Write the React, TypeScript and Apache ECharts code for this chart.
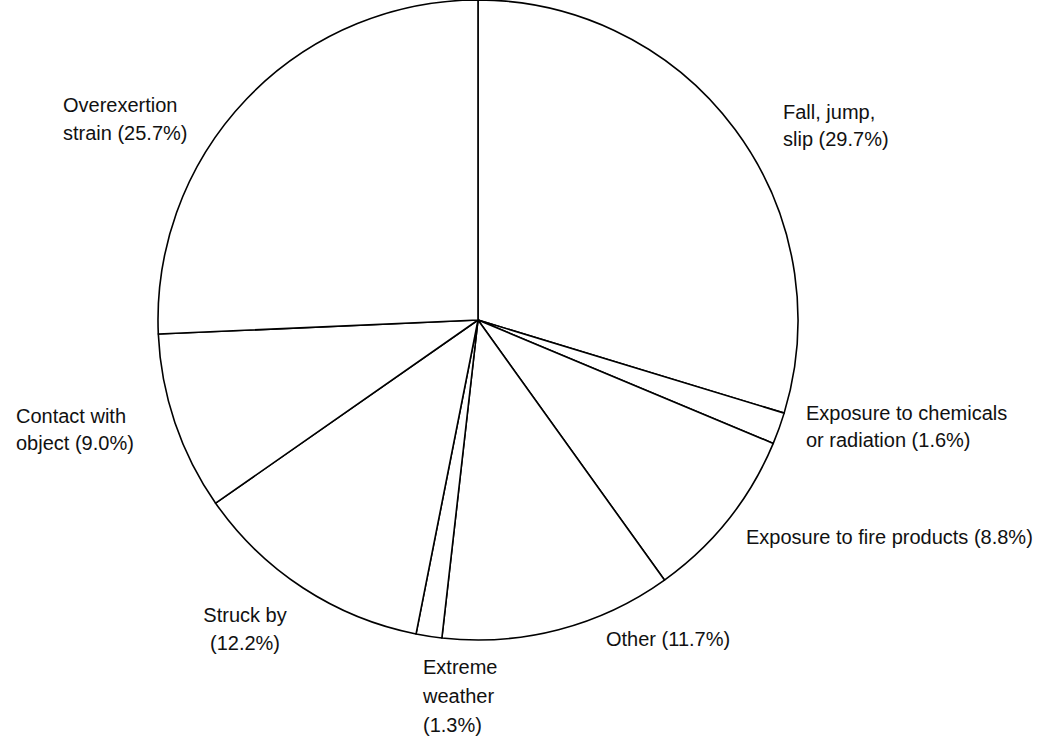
import React, { useEffect, useRef } from "react";
import * as echarts from "echarts";

const categories = [
  "Fall, jump,\nslip",
  "Exposure to chemicals\nor radiation",
  "Exposure to fire products",
  "Other",
  "Extreme\nweather",
  "Struck by",
  "Contact with\nobject",
  "Overexertion\nstrain",
];
const values = [29.7, 1.6, 8.8, 11.7, 1.3, 12.2, 9.0, 25.7];
// separator between name and percentage in the label
const valueSeparators = [" ", " ", " ", " ", "\n", "\n", " ", " "];

// label anchor positions (left/top of text block) and alignment
const labelPositions: { x: number; y: number; align: "left" | "center"; lh: number }[] = [
  { x: 783, y: 98, align: "left", lh: 27 },
  { x: 806, y: 399, align: "left", lh: 27 },
  { x: 746, y: 523, align: "left", lh: 27 },
  { x: 606, y: 625, align: "left", lh: 27 },
  { x: 423, y: 652, align: "left", lh: 29 },
  { x: 245, y: 601, align: "center", lh: 28 },
  { x: 16, y: 402, align: "left", lh: 27 },
  { x: 63, y: 91, align: "left", lh: 28 },
];

export default function App() {
  const ref = useRef<HTMLDivElement>(null);
  useEffect(() => {
    if (!ref.current) return;
    const chart = echarts.init(ref.current, null, { renderer: "svg" });
    chart.setOption({
      animation: false,
      backgroundColor: "#ffffff",
      series: [
        {
          type: "pie",
          center: [478, 320],
          radius: 320,
          startAngle: 90,
          clockwise: true,
          avoidLabelOverlap: false,
          data: categories.map((name, i) => ({
            name,
            value: values[i],
            label: { lineHeight: labelPositions[i].lh },
          })),
          itemStyle: {
            color: "#ffffff",
            borderColor: "#000000",
            borderWidth: 1.6,
          },
          emphasis: { disabled: true },
          label: {
            show: true,
            position: "outside",
            fontFamily: "Liberation Sans, Arial, sans-serif",
            fontSize: 20,
            lineHeight: 27,
            color: "#111111",
            formatter: (p: any) =>
              `${categories[p.dataIndex]}${valueSeparators[p.dataIndex]}(${values[p.dataIndex].toFixed(1)}%)`,
          },
          labelLine: { show: false },
          labelLayout: (p: any) => {
            const pos = labelPositions[p.dataIndex];
            return {
              x: pos.x,
              y: pos.y,
              align: pos.align,
              verticalAlign: "top",
            };
          },
        },
      ],
    });
    return () => chart.dispose();
  }, []);
  return (
    <div
      ref={ref}
      style={{ position: "fixed", left: 0, top: 0, width: 1046, height: 740 }}
    />
  );
}
